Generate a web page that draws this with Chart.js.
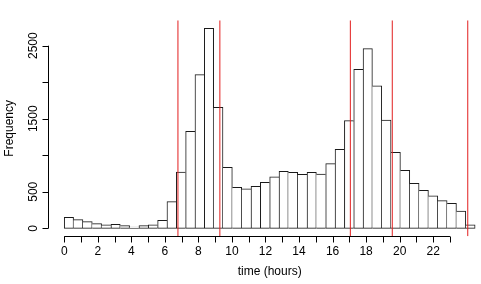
<!DOCTYPE html>
<html>
<head>
<meta charset="utf-8">
<script src="https://cdn.jsdelivr.net/npm/chart.js@4.4.0/dist/chart.umd.min.js"></script>
<style>
    html, body { margin: 0; padding: 0; background: #fff; }
    canvas { display: block; }
</style>
</head>
<body>
<canvas id="hist" width="481" height="284"></canvas>
<script>
(function () {
    "use strict";

    // histogram counts, 44 bins over 0 .. 24.5 hours
    var binWidth = 24.5 / 44;
    var counts = [151, 119, 91, 64, 46, 55, 37, 18, 37, 46,
        110, 365, 771, 1328, 2104, 2738, 1657, 835, 561, 539,
        575, 630, 703, 780, 767, 739, 767, 744, 885, 1082,
        1474, 2177, 2460, 1949, 1483, 1041, 794, 616, 520, 443,
        379, 342, 237, 46];
    // red vertical lines (hours)
    var cutoffs = [6.78, 9.28, 17.06, 19.56, 24.06];
    var xTicks = [0, 1, 2, 3, 4, 5, 6, 7, 8, 9, 10, 11, 12, 13, 14, 15, 16, 17, 18, 19, 20, 21, 22, 23];
    var xTickLabels = ["0", "", "2", "", "4", "", "6", "", "8", "", "10", "", "12", "", "14", "", "16", "", "18", "", "20", "", "22", ""];
    var yTicks = [0, 500, 1000, 1500, 2000, 2500];
    var yTickLabels = ["0", "500", "", "1500", "", "2500"];
    var xTitle = "time (hours)";
    var yTitle = "Frequency";

    var X_MIN = -0.98, X_MAX = 24.85;
    var Y_MIN = -109.5, Y_MAX = 2847.7;
    var FONT = "12px 'Liberation Sans', Arial, sans-serif";

    var bars = counts.map(function (v, i) {
        return { x: (i + 0.5) * binWidth, y: v };
    });

    var datasets = cutoffs.map(function (v) {
        return {
            type: "line",
            data: [{ x: v, y: Y_MIN }, { x: v, y: Y_MAX }],
            borderColor: "rgb(226,30,30)",
            borderWidth: 1,
            pointRadius: 0,
            order: 1
        };
    });
    datasets.push({
        type: "bar",
        data: bars,
        backgroundColor: "#ffffff",
        borderColor: "#1a1a1a",
        // shared edge between two bins goes to the taller one, so it is drawn once
        borderWidth: function (ctx) {
            var i = ctx.dataIndex, n = counts.length;
            var left = i === 0 || counts[i - 1] < counts[i] ? 1 : 0;
            var right = i === n - 1 || counts[i + 1] <= counts[i] ? 1 : 0;
            return { top: 1, left: left, bottom: 1, right: right };
        },
        borderSkipped: false,
        barPercentage: 1,
        categoryPercentage: 1,
        order: 2
    });

    // R style axes drawn off the plot region
    var rAxes = {
        id: "rAxes",
        afterDraw: function (chart) {
            var c = chart.ctx, xs = chart.scales.x, ys = chart.scales.y;
            var area = chart.chartArea;
            var ax = Math.round(area.left) + 0.5;
            var ay = Math.round(area.bottom) + 0.5;
            c.save();
            c.strokeStyle = "#000";
            c.fillStyle = "#000";
            c.lineWidth = 1;
            c.font = FONT;

            // x axis
            var x0 = xs.getPixelForValue(xTicks[0]);
            var x1 = xs.getPixelForValue(xTicks[xTicks.length - 1]);
            c.beginPath();
            c.moveTo(x0, ay);
            c.lineTo(x1, ay);
            xTicks.forEach(function (t) {
                var px = Math.round(xs.getPixelForValue(t)) + 0.5;
                c.moveTo(px, ay);
                c.lineTo(px, ay + 6);
            });
            c.stroke();
            c.textAlign = "center";
            c.textBaseline = "alphabetic";
            xTicks.forEach(function (t, i) {
                if (xTickLabels[i]) c.fillText(xTickLabels[i], xs.getPixelForValue(t), 254.5);
            });
            c.fillText(xTitle, (area.left + xs.getPixelForValue(25.48)) / 2, 275);

            // y axis
            var y0 = ys.getPixelForValue(yTicks[0]);
            var y1 = ys.getPixelForValue(yTicks[yTicks.length - 1]);
            c.beginPath();
            c.moveTo(ax, y0);
            c.lineTo(ax, y1);
            yTicks.forEach(function (t) {
                var py = Math.round(ys.getPixelForValue(t)) + 0.5;
                c.moveTo(ax, py);
                c.lineTo(ax - 6, py);
            });
            c.stroke();
            yTicks.forEach(function (t, i) {
                if (!yTickLabels[i]) return;
                c.save();
                c.translate(37, ys.getPixelForValue(t));
                c.rotate(-Math.PI / 2);
                c.fillText(yTickLabels[i], 0, 0);
                c.restore();
            });
            c.save();
            c.translate(13, (area.top + area.bottom) / 2);
            c.rotate(-Math.PI / 2);
            c.fillText(yTitle, 0, 0);
            c.restore();
            c.restore();
        }
    };

    new Chart(document.getElementById("hist").getContext("2d"), {
        type: "bar",
        data: { datasets: datasets },
        options: {
            responsive: false,
            animation: false,
            devicePixelRatio: 1,
            layout: { padding: { left: 47.8, top: 20.3, right: 0, bottom: 47.7 } },
            plugins: { legend: { display: false }, tooltip: { enabled: false } },
            scales: {
                x: { type: "linear", min: X_MIN, max: X_MAX, offset: false, display: false },
                y: { type: "linear", min: Y_MIN, max: Y_MAX, display: false }
            }
        },
        plugins: [rAxes]
    });
})();
</script>
</body>
</html>
